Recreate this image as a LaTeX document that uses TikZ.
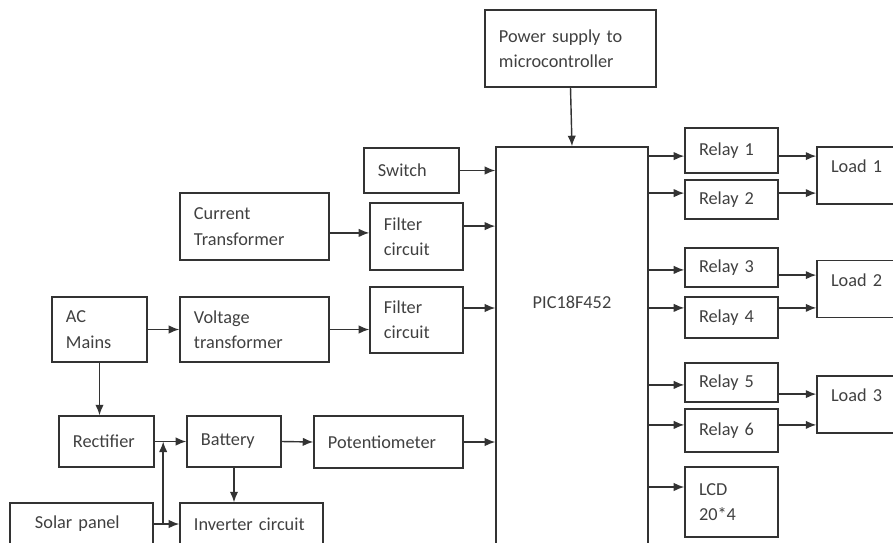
\documentclass[tikz,border=0pt]{standalone}
\usepackage{fontspec}
\setmainfont{Carlito}
\usetikzlibrary{calc,arrows.meta}

\begin{document}
\begin{tikzpicture}[x=0.025cm, y=-0.025cm, line width=1pt, >={Latex[length=7.5pt,width=6pt]},
	lbl/.style={text=textgray, font=\fontsize{13}{18}\selectfont},
	box/.style={lbl, draw=linegray, align=left, inner xsep=0.35cm, inner ysep=0pt},
	loadbox/.style={box, text depth=13pt},
	arr/.style={draw=linegray, ->}]
	\definecolor{linegray}{gray}{0.2}
	\definecolor{textgray}{gray}{0.25}
	\useasboundingbox (0,0) rectangle (893,542);
	\clip (0,0) rectangle (893,542);

	%Mikrocontroller
	\node[box, minimum width=3.8cm, minimum height=10.325cm] (pic) at (572,353.5) {};
	\node[lbl] (piclbl) at (572,302) {PIC18F452};
	\node[box, text width=3.575cm, minimum height=1.925cm] (pwr) at (570.5,48.5) {Power supply to\\microcontroller};

	%Eingaenge
	\node[box, text width=1.675cm, minimum height=1.125cm] (sw) at (411.5,170.5) {Switch};
	\node[box, text width=3.025cm, minimum height=1.675cm] (ct) at (254.5,226.5) {Current\\Transformer};
	\node[box, text width=1.625cm, minimum height=1.675cm] (f1) at (416.5,236.5) {Filter\\circuit};
	\node[box, text width=1.625cm, minimum height=1.65cm] (f2) at (416.5,320) {Filter\\circuit};
	\node[box, text width=1.675cm, minimum height=1.625cm] (ac) at (99.5,329.5) {AC\\Mains};
	\node[box, text width=3.025cm, minimum height=1.625cm] (vt) at (254.5,329.5) {Voltage\\transformer};
	\node[box, text width=1.675cm, minimum height=1.275cm] (rect) at (106.5,441.5) {Rectifier};
	\node[box, text width=1.65cm, minimum height=1.275cm] (bat) at (234,441.5) {Battery};
	\node[box, text width=3.025cm, minimum height=1.3cm] (pot) at (388.5,442) {Potentiometer};
	\node[box, inner xsep=0.625cm, text width=2.325cm, minimum height=1.05cm] (sol) at (81.5,524) {Solar panel};
	\node[box, text width=2.875cm, minimum height=1.05cm] (inv) at (251.5,524) {Inverter circuit};

	%Ausgaenge
	\foreach \n/\y/\h in {1/150.5/1.125, 2/199.5/0.975, 3/267.5/0.975, 4/317.5/1.025, 5/382.5/0.975, 6/430.5/1.075}
		\node[box, text width=1.625cm, minimum height=\h cm] (r\n) at (731.5,\y) {Relay \n};
	\node[box, text width=1.625cm, minimum height=1.75cm] (lcd) at (731.5,502) {LCD\\20*4};
	\foreach \n/\y in {1/175.5, 2/289, 3/404.5}
		\node[loadbox, text width=1.5cm, minimum height=1.43cm] (l\n) at (861,\y) {Load \n};

	%Verbindungen
	\draw[arr] (pwr.south) -- (pic.north);
	\draw[arr] (sw.east) -- (sw.east -| pic.west);
	\draw[arr] ([yshift=0.26cm]f1.east) -- ([yshift=0.26cm]f1.east -| pic.west);
	\draw[arr] ([yshift=0.3cm]f2.east) -- ([yshift=0.3cm]f2.east -| pic.west);
	\draw[arr] (pot.east) -- (pot.east -| pic.west);
	\draw[arr] ([yshift=-0.16cm]ct.east) -- ([yshift=-0.16cm]ct.east -| f1.west);
	\draw[arr] (ac.east) -- (vt.west);
	\draw[arr] (vt.east) -- (vt.east -| f2.west);
	\draw[arr] (ac.south) -- (ac.south |- rect.north);
	\draw[arr] (rect.east) -- (bat.west);
	\draw[arr] (bat.east) -- (pot.west);
	\draw[arr] (bat.south) -- (bat.south |- inv.north);
	\draw[arr] (sol.east) -- (sol.east -| inv.west);
	\coordinate (jn) at ($(sol.east)!0.37!(sol.east -| inv.west)$);
	\draw[arr] (jn) -- (jn |- rect.east);

	%Relais
	\foreach \n/\s in {1/-0.14, 2/0.16, 3/-0.06, 4/0.24, 5/-0.06, 6/0.14}
		\draw[arr] ([yshift=\s cm]r\n.west -| pic.east) -- ([yshift=\s cm]r\n.west);
	\draw[arr] ([yshift=0.375cm]lcd.west -| pic.east) -- ([yshift=0.375cm]lcd.west);
	\foreach \n/\l/\s in {1/1/-0.14, 2/1/0.16, 3/2/-0.19, 4/2/0.24, 5/3/-0.29, 6/3/0.14}
		\draw[arr] ([yshift=\s cm]r\n.east) -- ([yshift=\s cm]r\n.east -| l\l.west);
\end{tikzpicture}
\end{document}
